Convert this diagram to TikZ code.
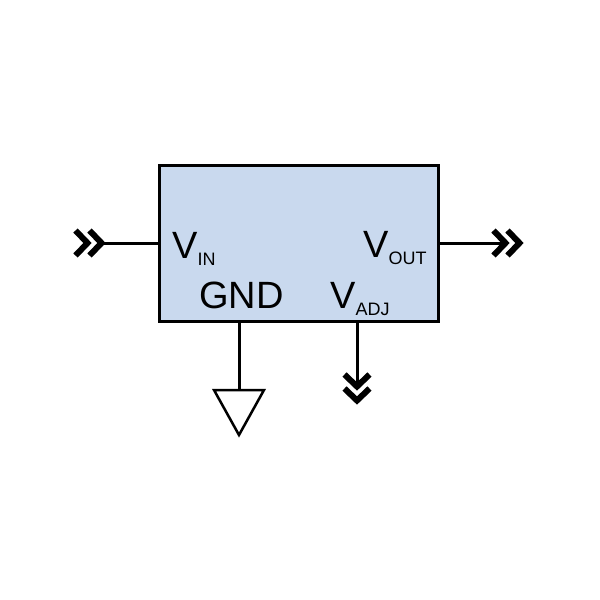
\documentclass[tikz,border=0pt]{standalone}
\usepackage{fontspec}
\setmainfont{Liberation Sans}
\usetikzlibrary{calc}
\newcommand{\pinname}[1]{V{\fontsize{18}{18}\selectfont\raisebox{-7pt}{#1}}}
\tikzset{
  x=1pt, y=-1pt,
  regbox/.style = {draw=black, fill=regblue, line width=3pt, inner sep=0pt, minimum width=279pt, minimum height=156pt},
  pinlabel/.style = {anchor=base west, inner sep=0pt, font=\fontsize{38}{38}\selectfont},
  wire/.style = {draw=black, line width=3pt},
  chevron/.style = {draw=black, line width=6pt, miter limit=10},
  gndsym/.style = {draw=black, line width=2.5pt, miter limit=10},
  dblchev/.pic = {
    \draw[chevron] (-12,-12.5) -- (0,0) -- (-12,12.5);
    \draw[chevron] (-26,-12.5) -- (-14,0) -- (-26,12.5);
  }
}
\definecolor{regblue}{HTML}{C9D9EE}

\begin{document}
\begin{tikzpicture}
\useasboundingbox (0,0) rectangle (600,600);
\node [regbox] (reg) at (298.5,243) {};
\node [pinlabel] (vin) at (172,258) {\pinname{IN}};
\node [pinlabel] (vout) at (363,257) {\pinname{OUT}};
\node [pinlabel] (gnd) at (199,308) {GND};
\node [pinlabel] (vadj) at (330,308) {\pinname{ADJ}};
\coordinate (infree) at (101.5,243);
\coordinate (outfree) at (519.5,243);
\coordinate (adjfree) at (357,400.5);
\coordinate (gndtop) at (239,390);
\draw[wire] (infree) -- (infree -| reg.west);
\draw[wire] (outfree -| reg.east) -- ($(outfree)+(-14,0)$);
\draw[wire] (adjfree |- reg.south) -- ($(adjfree)+(0,-14)$);
\draw[wire] (gndtop |- reg.south) -- (gndtop);
\pic at (infree) {dblchev};
\pic at (outfree) {dblchev};
\pic[rotate=-90] at (adjfree) {dblchev};
\draw[gndsym] (214,390) -- (264,390) -- (239,435) -- cycle;
\end{tikzpicture}
\end{document}
